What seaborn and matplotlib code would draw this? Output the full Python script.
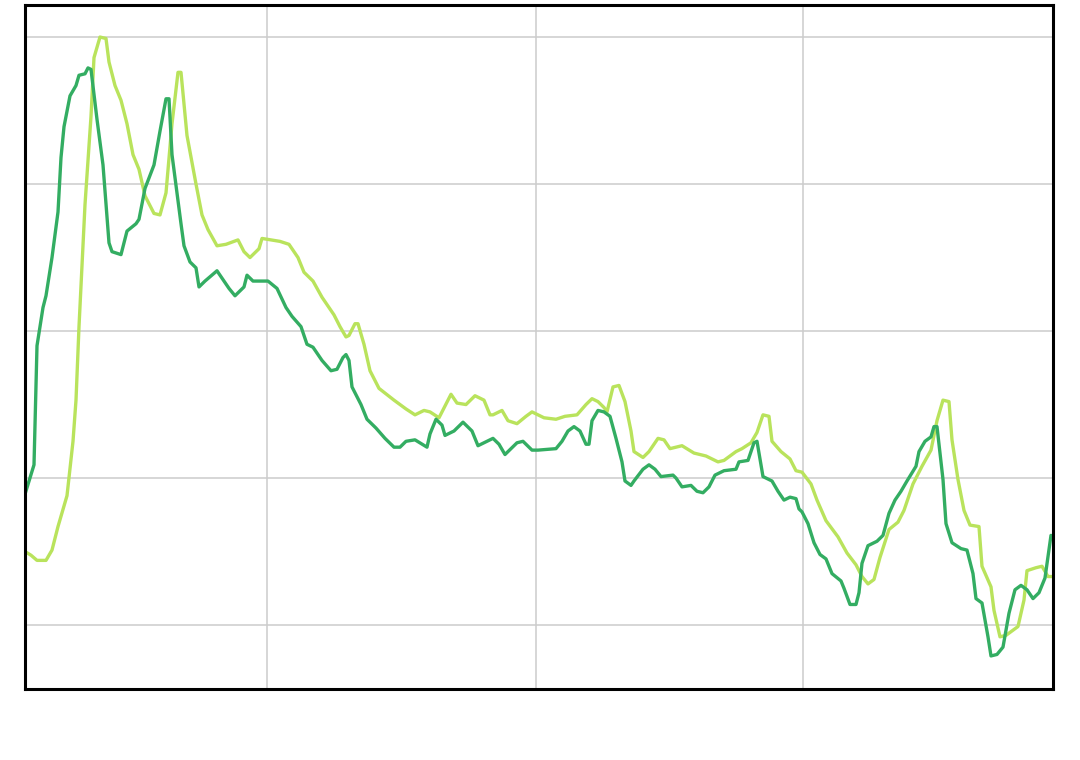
import matplotlib
matplotlib.use("Agg")
import matplotlib.pyplot as plt
import seaborn as sns
import pandas as pd

# Series A (darker green): day index and value
days_a = [0, 3, 4, 6, 7, 9, 11, 12, 13, 15, 17, 18, 20, 21, 22, 24, 26, 28, 29, 32, 33, 34, 37, 38, 40, 43, 45, 47, 48, 49,
          52, 53, 55, 57, 58, 60, 64, 68, 70, 73, 74, 76, 81, 84, 87, 89, 92, 94, 96, 99, 102, 104, 106, 107, 108, 109,
          112, 114, 117, 120, 123, 125, 127, 130, 134, 135, 137, 139, 140, 143, 146, 149, 151, 156, 158, 160, 164, 166,
          169, 171, 177, 179, 181, 183, 185, 187, 188, 189, 191, 193, 195, 197, 199, 200, 202, 203, 206, 208, 210, 212,
          216, 217, 219, 222, 224, 226, 228, 230, 233, 237, 238, 241, 243, 244, 246, 249, 251, 253, 255, 257, 258, 259,
          261, 263, 265, 267, 269, 272, 273, 275, 277, 278, 279, 281, 284, 286, 288, 290, 292, 294, 297, 298, 300, 302,
          303, 304, 306, 307, 309, 312, 314, 316, 317, 319, 321, 322, 324, 326, 328, 330, 332, 334, 336, 338, 340, 342]
vals_a = [8.9, 10.9, 19.0, 21.6, 22.4, 25.0, 28.1, 31.8, 33.9, 36.0, 36.7, 37.4, 37.5, 37.9, 37.8, 34.4, 31.3, 26.0, 25.4,
          25.2, 26.0, 26.8, 27.3, 27.6, 29.7, 31.3, 33.6, 35.8, 35.8, 32.0, 27.3, 25.8, 24.7, 24.3, 23.0, 23.4, 24.1, 22.9,
          22.4, 23.0, 23.8, 23.4, 23.4, 22.9, 21.6, 21.0, 20.3, 19.1, 18.9, 18.0, 17.3, 17.4, 18.2, 18.4, 18.0, 16.2, 15.0,
          14.0, 13.4, 12.7, 12.1, 12.1, 12.5, 12.6, 12.1, 13.0, 14.0, 13.6, 12.9, 13.2, 13.8, 13.2, 12.2, 12.7, 12.3, 11.6,
          12.4, 12.5, 11.9, 11.9, 12.0, 12.5, 13.2, 13.5, 13.2, 12.3, 12.3, 13.9, 14.6, 14.5, 14.2, 12.7, 11.1, 9.8, 9.5,
          9.8, 10.6, 10.9, 10.6, 10.1, 10.2, 10.0, 9.4, 9.5, 9.1, 9.0, 9.4, 10.2, 10.5, 10.6, 11.1, 11.2, 12.4, 12.5, 10.1,
          9.8, 9.1, 8.5, 8.7, 8.6, 7.9, 7.7, 6.9, 5.6, 4.8, 4.5, 3.5, 3.0, 2.5, 1.4, 1.4, 2.2, 4.2, 5.4, 5.7, 6.1, 7.6, 8.5,
          9.1, 9.8, 10.8, 11.8, 12.5, 12.8, 13.5, 13.5, 9.9, 6.9, 5.6, 5.2, 5.1, 3.5, 1.8, 1.5, -0.8, -2.1, -2.0, -1.5,
          0.8, 2.4, 2.7, 2.4, 1.8, 2.2, 3.2, 6.1]

# Series B (light green): day index and value
days_b = [0, 2, 4, 7, 9, 11, 14, 16, 17, 18, 20, 22, 23, 25, 27, 28, 30, 32, 34, 36, 38, 40, 43, 45, 47, 49, 51, 52, 54,
          57, 59, 61, 64, 67, 71, 73, 75, 78, 79, 82, 85, 88, 91, 93, 96, 99, 103, 105, 107, 108, 110, 111, 113, 115,
          118, 123, 127, 130, 133, 135, 138, 140, 142, 144, 147, 150, 153, 155, 156, 159, 161, 164, 167, 169, 173, 177,
          180, 184, 187, 189, 191, 193, 194, 196, 198, 200, 202, 203, 206, 208, 211, 213, 215, 219, 223, 227, 231, 233,
          237, 239, 242, 244, 246, 248, 249, 252, 255, 257, 259, 262, 264, 267, 271, 274, 277, 279, 281, 283, 285, 288,
          291, 293, 296, 299, 302, 304, 306, 308, 309, 311, 313, 315, 318, 319, 322, 323, 325, 327, 331, 333, 334, 337,
          339, 341, 343]
vals_b = [5.0, 4.75, 4.4, 4.4, 5.1, 6.7, 8.8, 12.5, 15.3, 20.3, 28.6, 34.6, 38.6, 40.0, 39.9, 38.3, 36.7, 35.7, 34.1,
          32.0, 31.0, 29.2, 28.0, 27.9, 29.4, 34.1, 37.6, 37.6, 33.3, 30.0, 27.9, 26.9, 25.8, 25.9, 26.2, 25.4, 25.0,
          25.6, 26.3, 26.2, 26.1, 25.9, 25.0, 24.0, 23.4, 22.3, 21.1, 20.3, 19.6, 19.7, 20.5, 20.5, 19.1, 17.3, 16.1,
          15.3, 14.7, 14.3, 14.6, 14.5, 14.1, 14.9, 15.7, 15.1, 15.0, 15.6, 15.3, 14.3, 14.3, 14.6, 13.9, 13.7, 14.2,
          14.5, 14.1, 14.0, 14.2, 14.3, 15.0, 15.4, 15.2, 14.8, 14.5, 16.2, 16.3, 15.2, 13.2, 11.8, 11.4, 11.8, 12.7,
          12.6, 12.0, 12.2, 11.7, 11.5, 11.1, 11.2, 11.8, 12.0, 12.4, 13.1, 14.3, 14.2, 12.5, 11.8, 11.3, 10.5, 10.4,
          9.6, 8.5, 7.1, 6.0, 4.9, 4.1, 3.3, 2.8, 3.1, 4.6, 6.5, 7.0, 7.8, 9.6, 10.8, 11.9, 13.9, 15.3, 15.2, 12.6, 9.9,
          7.8, 6.8, 6.7, 4.0, 2.6, 1.0, -0.8, -0.7, -0.1, 1.7, 3.7, 3.9, 4.0, 3.3, 3.3]

x_grid = [80.67, 170.33, 259.33]
y_grid = [0, 10, 20, 30, 40]

sns.set_style("whitegrid")
fig = plt.figure(figsize=(10.8, 7.6), dpi=100)
ax = fig.add_axes([25 / 1080, 71 / 760, 1028 / 1080, 684 / 760])

df_a = pd.DataFrame({"day": days_a, "value": vals_a})
df_b = pd.DataFrame({"day": days_b, "value": vals_b})
sns.lineplot(data=df_b, x="day", y="value", ax=ax, color="#b9e35c", linewidth=2.4,
             solid_joinstyle="round", solid_capstyle="round")
sns.lineplot(data=df_a, x="day", y="value", ax=ax, color="#33ad62", linewidth=2.4,
             solid_joinstyle="round", solid_capstyle="round")

ax.set_xlim(0, 342.67)
ax.set_ylim(-4.35, 42.18)
ax.set_xticks(x_grid)
ax.set_yticks(y_grid)
ax.set_xticklabels([])
ax.set_yticklabels([])
ax.tick_params(length=0)
ax.set_xlabel("")
ax.set_ylabel("")
ax.grid(True, color="#cccccc", linewidth=1.1)
ax.set_axisbelow(True)
for s in ax.spines.values():
    s.set_visible(True)
    s.set_color("black")
    s.set_linewidth(2.2)

fig.savefig("out.png", dpi=100, facecolor="white")
